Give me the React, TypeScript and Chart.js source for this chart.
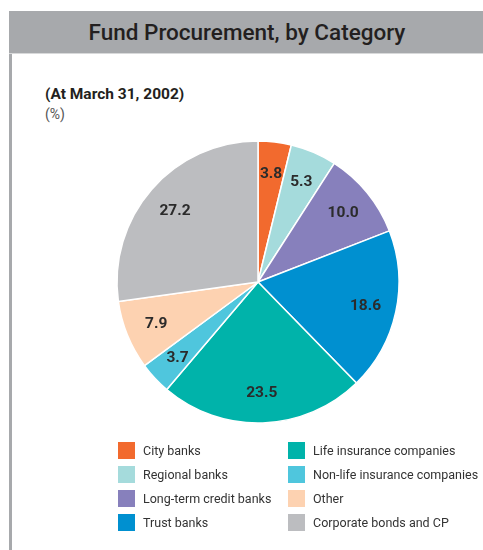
import React, { useEffect, useRef } from "react";
import { Chart, registerables } from "chart.js";

Chart.register(...registerables);

const categories = [
  "City banks",
  "Regional banks",
  "Long-term credit banks",
  "Trust banks",
  "Life insurance companies",
  "Non-life insurance companies",
  "Other",
  "Corporate bonds and CP",
];
const values = [3.8, 5.3, 10.0, 18.6, 23.5, 3.7, 7.9, 27.2];
const valueLabels = ["3.8", "5.3", "10.0", "18.6", "23.5", "3.7", "7.9", "27.2"];
const colors = [
  "#f26a2e",
  "#a5dbdc",
  "#8780bc",
  "#0090d0",
  "#00b3aa",
  "#4fc6dd",
  "#fdd2b1",
  "#bcbdc0",
];
const title = "Fund Procurement, by Category";
const subtitle = "(At March 31, 2002)";
const unit = "(%)";

const FONT = "Roboto, 'Noto Sans', sans-serif";

const labelPlugin = {
  id: "sliceLabels",
  afterDatasetsDraw(chart: any) {
    const ctx = chart.ctx;
    const meta = chart.getDatasetMeta(0);
    ctx.save();
    ctx.font = `bold 15.5px ${FONT}`;
    ctx.fillStyle = "#2b2b2b";
    ctx.textAlign = "center";
    ctx.textBaseline = "middle";
    meta.data.forEach((arc: any, i: number) => {
      const p = arc.getProps(["x", "y", "startAngle", "endAngle", "outerRadius"], true);
      const a = (p.startAngle + p.endAngle) / 2;
      const r = p.outerRadius * 0.78;
      ctx.fillText(valueLabels[i], p.x + Math.cos(a) * r, p.y + Math.sin(a) * r + 1);
    });
    ctx.restore();
  },
};

export default function App() {
  const ref = useRef<HTMLCanvasElement>(null);
  useEffect(() => {
    document.body.style.margin = "0";
    const chart = new Chart(ref.current!, {
      type: "pie",
      data: {
        labels: categories,
        datasets: [
          {
            data: values,
            backgroundColor: colors,
            borderColor: "#ffffff",
            borderWidth: 1.5,
            radius: 141,
          } as any,
        ],
      },
      options: {
        animation: false,
        responsive: false,
        maintainAspectRatio: false,
        layout: { padding: { left: 100, right: 67, top: 124, bottom: 110 } },
        plugins: {
          legend: { display: false },
          tooltip: { enabled: false },
          title: { display: false },
        },
      },
      plugins: [labelPlugin],
    });
    return () => chart.destroy();
  }, []);

  const legendItem = (i: number) => (
    <div key={i} style={{ display: "flex", alignItems: "center", height: 24 }}>
      <div style={{ width: 17, height: 17, background: colors[i], marginRight: 8, flex: "none" }} />
      <span style={{ fontSize: 12.5, color: "#333", whiteSpace: "nowrap", marginTop: 1 }}>{categories[i]}</span>
    </div>
  );

  return (
    <div style={{ position: "relative", width: 483, height: 550, fontFamily: FONT, background: "#fff", overflow: "hidden" }}>
      <div
        style={{
          position: "absolute",
          left: 9,
          top: 11,
          width: 474,
          height: 42,
          background: "#a7a9ac",
          borderBottom: "1px solid #d8d9da",
          display: "flex",
          alignItems: "center",
          justifyContent: "center",
          color: "#231f20",
          fontSize: 22.5,
          fontWeight: 500,
        }}
      >
        <span style={{ marginLeft: 2 }}>{title}</span>
      </div>
      <div style={{ position: "absolute", left: 9, top: 54, width: 3, height: 496, background: "#a7a9ac" }} />
      <div style={{ position: "absolute", left: 45, top: 85, fontSize: 15.5, fontWeight: "bold", color: "#231f20" }}>{subtitle}</div>
      <div style={{ position: "absolute", left: 45, top: 106, fontSize: 14, color: "#555" }}>{unit}</div>
      <canvas ref={ref} width={483} height={550} style={{ position: "absolute", left: 0, top: 0 }} />
      <div style={{ position: "absolute", left: 118, top: 438 }}>
        {[0, 1, 2, 3].map(legendItem)}
      </div>
      <div style={{ position: "absolute", left: 288, top: 438 }}>
        {[4, 5, 6, 7].map(legendItem)}
      </div>
    </div>
  );
}
